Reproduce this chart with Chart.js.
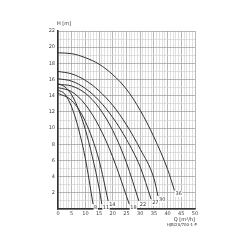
<!DOCTYPE html>
<html>
<head>
<meta charset="utf-8">
<script src="https://cdn.jsdelivr.net/npm/chart.js@4/dist/chart.umd.min.js"></script>
<style>
  html, body { margin: 0; padding: 0; background: #fff; }
  #wrap { width: 250px; height: 250px; position: relative; }
</style>
</head>
<body>
<div id="wrap"><canvas id="c" width="250" height="250"></canvas></div>
<script>
// pump models and their curves (Q in m3/h, H in m)
const models = ['8', '11', '14', '18', '22', '27', '30', '36'];

const q8 = [0, 2.5, 5, 7.5, 10, 12.8];
const h8 = [14.7, 14.2, 12.6, 9.9, 6.2, 0.6];
const q11 = [0, 2.5, 5, 7.5, 10, 12.5, 15, 16];
const h11 = [15.5, 15.1, 14.1, 12.3, 9.8, 6.5, 2.6, 0.6];
const q14 = [0, 5, 10, 15, 18.3];
const h14 = [14.3, 13.4, 10.8, 6.0, 1.0];
const q18 = [0, 5, 10, 15, 20, 26];
const h18 = [15.0, 14.5, 12.9, 10.2, 6.4, 0.6];
const q22 = [0, 5, 10, 15, 20, 25, 29.5];
const h22 = [15.4, 15.2, 14.3, 12.5, 9.7, 5.7, 1.0];
const q27 = [0, 5, 10, 15, 20, 25, 30, 34];
const h27 = [16.1, 15.8, 14.9, 13.4, 11.3, 8.6, 5.2, 1.2];
const q30 = [0, 5, 10, 15, 20, 25, 30, 35, 36.5];
const h30 = [17.0, 16.7, 15.9, 14.6, 12.8, 10.4, 7.4, 3.8, 1.6];
const q36 = [0, 5, 10, 15, 20, 25, 30, 35, 40, 42.5];
const h36 = [19.3, 19.2, 18.7, 17.9, 16.6, 14.8, 12.2, 8.9, 4.9, 2.3];

const curveQ = [q8, q11, q14, q18, q22, q27, q30, q36];
const curveH = [h8, h11, h14, h18, h22, h27, h30, h36];

const xTitle = 'Q [m³/h]';
const yTitle = 'H [m]';
const refCode = 'HJB/20/700-1-P';

const datasets = models.map((m, i) => ({
  label: m,
  data: curveQ[i].map((q, j) => ({ x: q, y: curveH[i][j] })),
  borderColor: '#333',
  borderWidth: 1,
  pointRadius: 0,
  fill: false,
  cubicInterpolationMode: 'monotone'
}));

const textPlugin = {
  id: 'texts',
  afterDatasetsDraw(chart) {
    const ctx = chart.ctx;
    const a = chart.chartArea;
    ctx.save();
    ctx.font = '5px "DejaVu Sans"';
    ctx.textBaseline = 'top';
    ctx.textAlign = 'left';
    // curve labels with a small white box under them
    chart.data.datasets.forEach((ds, i) => {
      const pts = chart.getDatasetMeta(i).data;
      const p = pts[pts.length - 1];
      const w = ctx.measureText(ds.label).width;
      ctx.fillStyle = '#fff';
      ctx.fillRect(p.x + 0.5, p.y + 0.5, w + 1, 6);
      ctx.fillStyle = '#333';
      ctx.fillText(ds.label, p.x + 1, p.y + 1);
    });
    ctx.fillStyle = '#333';
    ctx.textBaseline = 'alphabetic';
    ctx.fillText(yTitle, a.left - 1, a.top - 6);
    ctx.textAlign = 'right';
    ctx.fillText(xTitle, a.right, a.bottom + 12);
    ctx.font = '4px "DejaVu Sans"';
    ctx.fillText(refCode, a.right + 2, a.bottom + 17);
    ctx.restore();
  }
};

new Chart(document.getElementById('c'), {
  type: 'line',
  data: { datasets: datasets },
  plugins: [textPlugin],
  options: {
    responsive: false,
    animation: false,
    layout: { padding: { left: 46, right: 55, top: 31, bottom: 31 } },
    plugins: { legend: { display: false }, tooltip: { enabled: false } },
    scales: {
      x: {
        type: 'linear',
        min: 0,
        max: 50,
        afterFit(s) { s.height = 10; },
        border: { color: '#333', width: 1.5 },
        grid: {
          drawTicks: false,
          lineWidth: 0.7,
          color: c => (c.tick && c.tick.value % 5 === 0) ? '#999' : '#d2d2d2'
        },
        ticks: {
          stepSize: 1,
          autoSkip: false,
          maxRotation: 0,
          padding: 2,
          color: '#444',
          font: { size: 5, family: 'DejaVu Sans' },
          callback: v => v % 5 === 0 ? v : ''
        }
      },
      y: {
        type: 'linear',
        min: 0,
        max: 22,
        afterFit(s) { s.width = 12; },
        border: { color: '#333', width: 1.5 },
        grid: {
          drawTicks: false,
          lineWidth: 0.7,
          color: c => (c.tick && c.tick.value % 2 === 0) ? '#999' : '#d2d2d2'
        },
        ticks: {
          stepSize: 1,
          autoSkip: false,
          padding: 3,
          color: '#444',
          font: { size: 5, family: 'DejaVu Sans' },
          callback: v => (v % 2 === 0 && v > 0) ? v : ''
        }
      }
    }
  }
});
</script>
</body>
</html>
